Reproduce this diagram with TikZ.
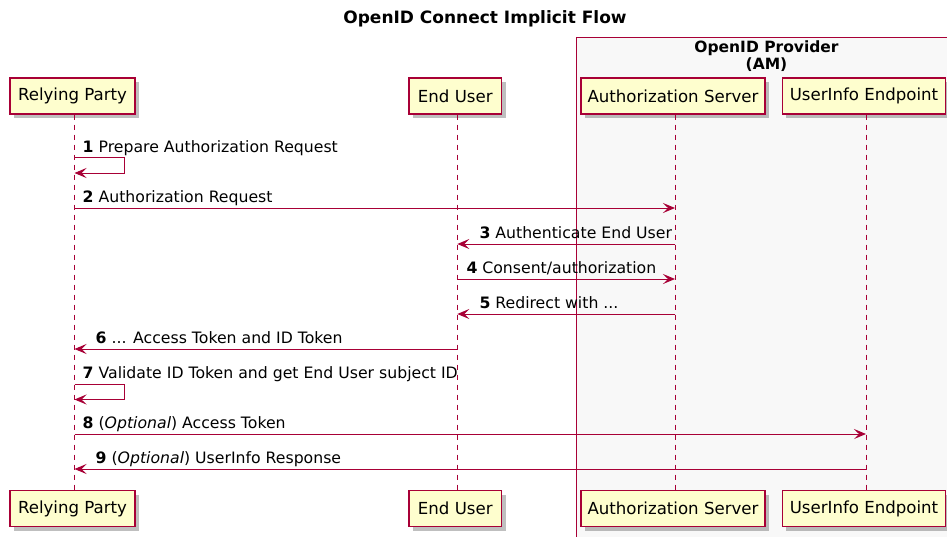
\documentclass[tikz,border=0pt]{standalone}
\usepackage{fontspec}
\setmainfont{DejaVu Sans}
\usetikzlibrary{arrows.meta,shadows,calc}
\definecolor{pu}{HTML}{A80036}
\definecolor{pbox}{HTML}{FEFECE}
\definecolor{grp}{HTML}{F8F8F8}
\begin{document}
\begin{tikzpicture}[x=1pt,y=-1pt,
  part/.style={draw=pu, line width=1.2pt, fill=pbox, minimum height=36pt, inner sep=0pt,
    font=\fontsize{16.6}{19}\selectfont,
    drop shadow={shadow xshift=4pt, shadow yshift=-4pt, opacity=0.25, fill=black}},
  life/.style={draw=pu, dash pattern=on 5pt off 5pt, line width=0.9pt},
  msg/.style={draw=pu, line width=1pt, -{Stealth[length=12pt,width=10pt,inset=5pt]}},
  lbl/.style={anchor=base west, font=\fontsize{15.7}{18}\selectfont, inner sep=0pt},
  grplbl/.style={anchor=base, font=\bfseries\fontsize{15.5}{18}\selectfont, inner sep=0pt},
]
\clip (0,0) rectangle (947,536);
\fill[white] (0,0) rectangle (947,536);

% title
\node[anchor=base, font=\bfseries\fontsize{17}{20}\selectfont, inner sep=0pt] (title) at (485,23) {OpenID Connect Implicit Flow};

% group box
\draw[draw=pu, fill=grp, line width=1pt] (576.5,37) rectangle (960,560);
\node[grplbl] (g1) at (766.5,52) {OpenID Provider};
\node[grplbl] (g2) at (766.5,69) {(AM)};

% participants top
\node[part, minimum width=125pt] (rpT) at (72.5,96) {Relying Party};
\node[part, minimum width=92.5pt] (euT) at (455.3,96) {End User};
\node[part, minimum width=184pt] (asT) at (673,96) {Authorization Server};
\node[part, minimum width=163.5pt] (uiT) at (864,96) {UserInfo Endpoint};
% participants bottom
\node[part, minimum width=125pt] (rpB) at (72.5,508.5) {Relying Party};
\node[part, minimum width=92.5pt] (euB) at (455.3,508.5) {End User};
\node[part, minimum width=184pt] (asB) at (673,508.5) {Authorization Server};
\node[part, minimum width=163.5pt] (uiB) at (864,508.5) {UserInfo Endpoint};

% lifelines
\coordinate (rpL) at ($(rpT.south)+(2,0)$);
\coordinate (euL) at ($(euT.south)+(2,0)$);
\coordinate (asL) at ($(asT.south)+(2,0)$);
\coordinate (uiL) at ($(uiT.south)+(2,0)$);
\draw[life] (rpL) -- ($(rpB.north)+(2,0)$);
\draw[life] (euL) -- ($(euB.north)+(2,0)$);
\draw[life] (asL) -- ($(asB.north)+(2,0)$);
\draw[life] (uiL) -- ($(uiB.north)+(2,0)$);

% 1 self
\draw[msg] (rpL |- 0,157) -- ++(50,0) -- ++(0,16) -- (rpL |- 0,173);
\node[lbl] (l1) at ($(rpL |- 0,152)+(8,0)$) {\textbf{1} Prepare Authorization Request};

% 2
\draw[msg] (rpL |- 0,208) -- (asL |- 0,208);
\node[lbl] (l2) at ($(rpL |- 0,202.5)+(8,0)$) {\textbf{2} Authorization Request};

% 3
\draw[msg] (asL |- 0,244) -- (euL |- 0,244);
\node[lbl] (l3) at ($(euL |- 0,238)+(22,0)$) {\textbf{3} Authenticate End User};

% 4
\draw[msg] (euL |- 0,279) -- (asL |- 0,279);
\node[lbl] (l4) at ($(euL |- 0,273)+(9,0)$) {\textbf{4} Consent/authorization};

% 5
\draw[msg] (asL |- 0,314) -- (euL |- 0,314);
\node[lbl] (l5) at ($(euL |- 0,308)+(22,0)$) {\textbf{5} Redirect with ...};

% 6
\draw[msg] (euL |- 0,349) -- (rpL |- 0,349);
\node[lbl] (l6) at ($(rpL |- 0,343)+(21,0)$) {\textbf{6} ... Access Token and ID Token};

% 7 self
\draw[msg] (rpL |- 0,384) -- ++(50,0) -- ++(0,15.5) -- (rpL |- 0,399.5);
\node[lbl] (l7) at ($(rpL |- 0,378)+(8,0)$) {\textbf{7} Validate ID Token and get End User subject ID};

% 8
\draw[msg] (rpL |- 0,434) -- (uiL |- 0,434);
\node[lbl] (l8) at ($(rpL |- 0,428)+(8,0)$) {\textbf{8} (\textit{Optional}) Access Token};

% 9
\draw[msg] (uiL |- 0,469) -- (rpL |- 0,469);
\node[lbl] (l9) at ($(rpL |- 0,463)+(21,0)$) {\textbf{9} (\textit{Optional}) UserInfo Response};

\end{tikzpicture}
\end{document}
